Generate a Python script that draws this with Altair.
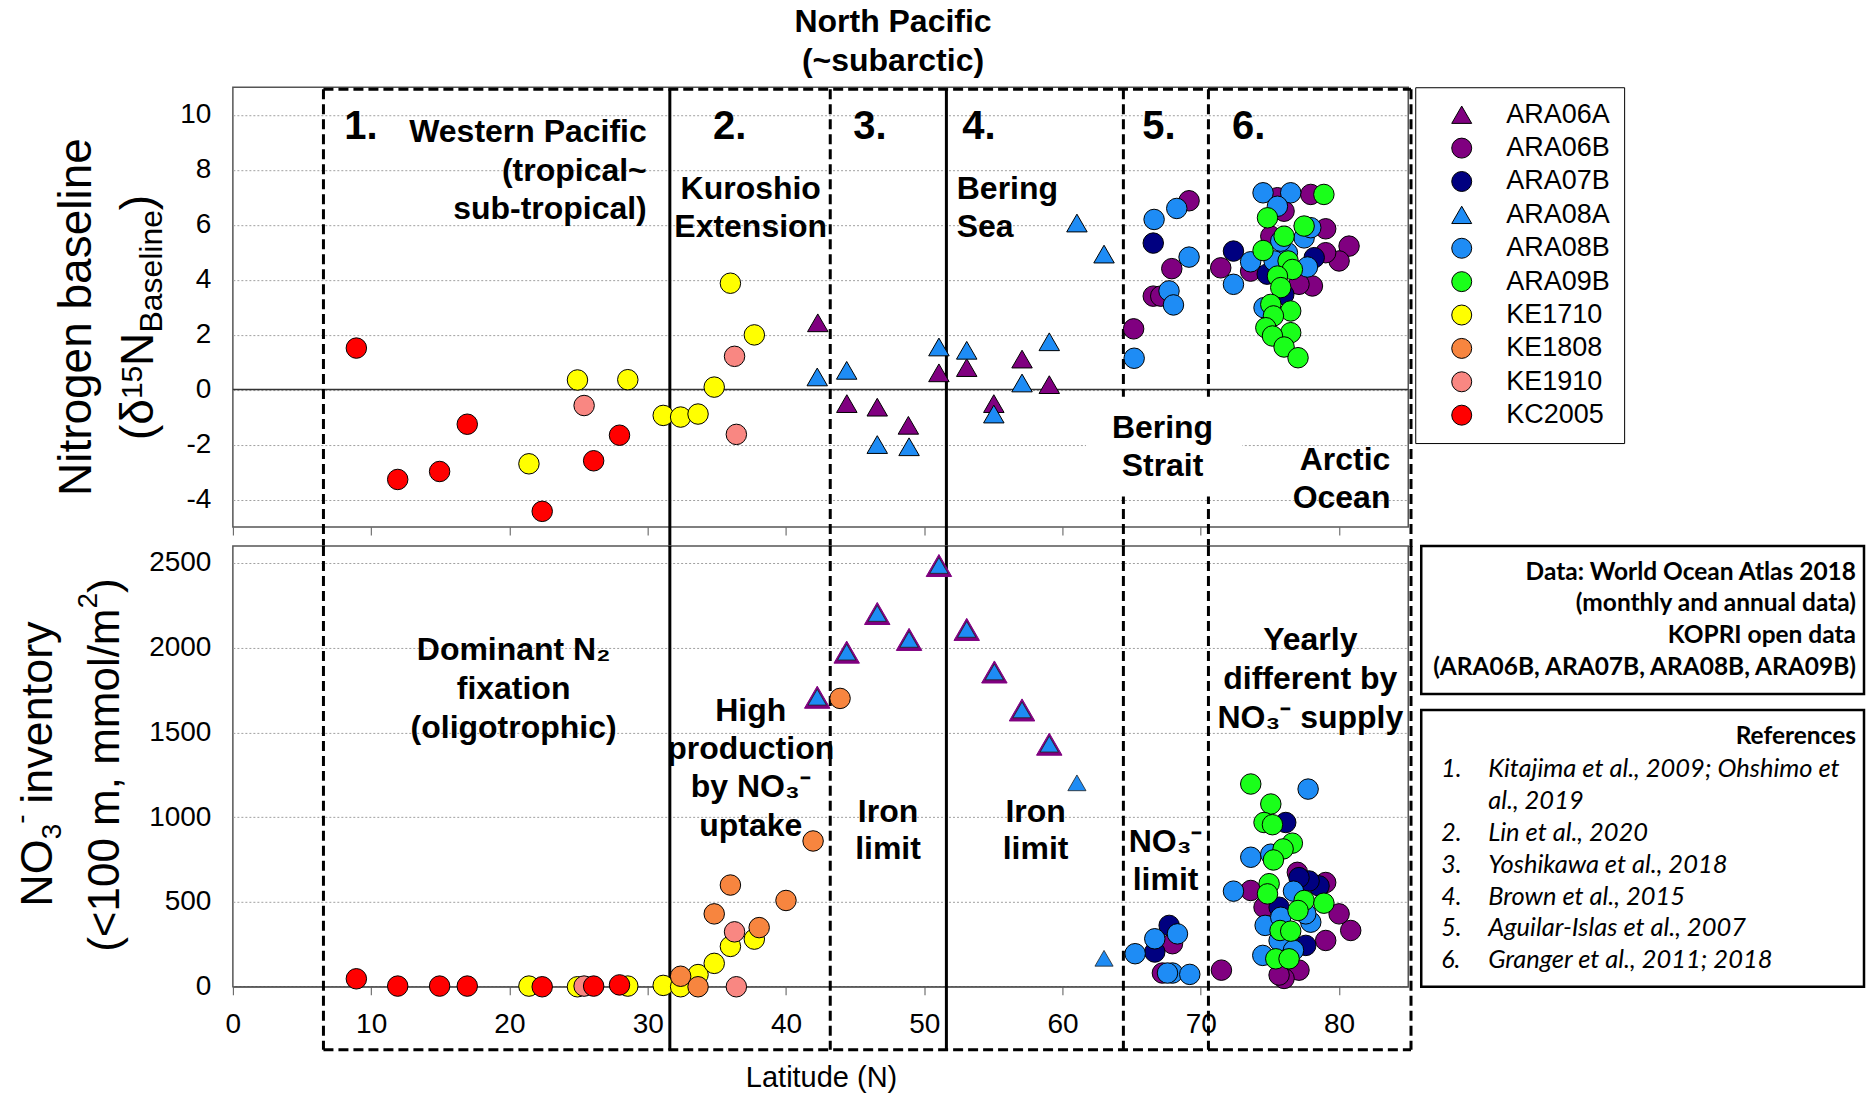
import altair as alt
import pandas as pd

FONT = "Liberation Sans"
REF_FONT = "Lato"

# ---------------- legend / categories ----------------
cruises = ["ARA06A", "ARA06B", "ARA07B", "ARA08A", "ARA08B", "ARA09B",
           "KE1710", "KE1808", "KE1910", "KC2005"]
colors = ["#800080", "#800080", "#000080", "#1E8CF5", "#1E8CF5", "#1AFF1A",
          "#FFFF00", "#F7853F", "#F98782", "#FF0000"]
shapes = ["triangle-up", "circle", "circle", "triangle-up", "circle", "circle",
          "circle", "circle", "circle", "circle"]

# ---------------- top panel: nitrogen baseline (d15N) ----------------
ARA06A_top_lat = [42.3, 44.4, 46.6, 48.85, 51.06, 53.07, 55.03, 57.07, 59.04]
ARA06A_top_d15n = [2.43, -0.51, -0.64, -1.30, 0.61, 0.80, -0.51, 1.11, 0.18]
ARA08A_top_lat = [42.26, 44.39, 46.6, 48.9, 51.06, 53.07, 55.03, 57.07, 59.04, 61.04, 63.0]
ARA08A_top_d15n = [0.46, 0.70, -2.0, -2.08, 1.55, 1.43, -0.89, 0.24, 1.74, 6.06, 4.93]
ARA06B_top_lat = [69.15, 67.9, 66.56, 67.1, 65.14, 71.44, 77.95, 79.03, 80.72, 80.0, 79.03,
                  78.07, 77.1, 76.02, 75.54, 73.6, 75.06]
ARA06B_top_d15n = [6.87, 4.40, 3.40, 3.40, 2.21, 4.43, 7.10, 5.85, 5.22, 4.68, 4.98,
                   3.77, 3.83, 6.49, 6.98, 4.31, 5.58]
ARA07B_top_lat = [66.56, 72.36, 78.2, 74.8, 76.0]
ARA07B_top_d15n = [5.33, 5.04, 4.80, 4.20, 3.46]
ARA08B_top_lat = [66.62, 68.26, 69.15, 67.7, 68.02, 65.18, 74.5, 76.5, 75.54, 72.36, 73.6,
                  77.47, 77.95, 76.26, 77.71, 75.78, 74.57, 75.3]
ARA08B_top_d15n = [6.19, 6.59, 4.82, 3.59, 3.08, 1.14, 7.16, 7.16, 6.67, 3.83, 4.65,
                   5.52, 5.89, 4.98, 4.46, 5.40, 2.98, 4.68]
ARA09B_top_lat = [78.9, 74.82, 77.47, 76.02, 74.5, 76.31, 76.62, 75.54, 75.78, 75.06, 76.5,
                  75.25, 74.7, 76.5, 75.18, 76.02, 77.03]
ARA09B_top_d15n = [7.10, 6.25, 5.95, 5.58, 5.06, 4.68, 4.37, 4.13, 3.71, 3.10, 2.86,
                   2.68, 2.25, 2.07, 1.95, 1.55, 1.16]
KE1710_top_lat = [21.41, 24.92, 28.56, 31.12, 32.38, 33.64, 34.81, 35.98, 37.71]
KE1710_top_d15n = [-2.70, 0.35, 0.36, -0.94, -1.0, -0.89, 0.09, 3.87, 1.99]
KE1910_top_lat = [25.4, 36.28, 36.41]
KE1910_top_d15n = [-0.58, 1.21, -1.63]
KC2005_top_lat = [8.93, 11.92, 14.95, 16.95, 22.37, 26.09, 27.96]
KC2005_top_d15n = [1.51, -3.27, -2.98, -1.26, -4.43, -2.59, -1.66]

# ---------------- bottom panel: NO3- inventory ----------------
ARA06A_bot_lat = [42.26, 44.39, 46.6, 48.9, 51.06, 53.07, 55.07, 57.07, 59.04]
ARA06A_bot_no3 = [1708, 1974, 2202, 2049, 2485, 2108, 1857, 1633, 1431]
ARA08A_bot_lat = [42.26, 44.39, 46.6, 48.9, 51.06, 53.07, 55.07, 57.07, 59.04, 61.04, 63.0]
ARA08A_bot_no3 = [1708, 1974, 2202, 2049, 2485, 2108, 1857, 1633, 1431, 1203, 168]
ARA06B_bot_lat = [67.95, 67.22, 71.49, 73.61, 79.03, 80.0, 80.84, 79.03, 77.1, 76.02, 75.66,
                  74.57, 76.98]
ARA06B_bot_no3 = [254, 81, 98, 568, 615, 430, 332, 273, 98, 49, 69, 469, 675]
ARA07B_bot_lat = [67.71, 66.67, 76.14, 78.55, 77.83, 77.1, 75.66, 77.59]
ARA07B_bot_no3 = [362, 205, 969, 595, 624, 644, 469, 244]
ARA08B_bot_lat = [65.25, 66.67, 68.31, 67.95, 69.2, 67.59, 77.76, 73.61, 72.36, 76.7, 77.95,
                  74.65, 75.78, 75.66, 74.48, 76.7, 75.06, 77.59]
ARA08B_bot_no3 = [195, 283, 312, 81, 73, 81, 1166, 764, 564, 564, 381,
                  362, 410, 272, 185, 215, 782, 430]
ARA09B_bot_lat = [73.61, 75.06, 74.57, 75.18, 76.62, 75.95, 75.25, 74.94, 74.82, 77.47, 77.03,
                  78.9, 75.73, 76.5, 75.42, 76.38]
ARA09B_bot_no3 = [1196, 1078, 969, 956, 847, 813, 748, 608, 548, 509, 450,
                  493, 332, 328, 165, 165]
KE1710_bot_lat = [21.41, 24.92, 28.56, 31.12, 32.38, 33.64, 34.81, 35.98, 37.71]
KE1710_bot_no3 = [4, 0, 4, 8, 0, 72, 138, 238, 281]
KE1808_bot_lat = [32.38, 33.64, 34.81, 35.98, 38.06, 40.0, 41.96, 43.91]
KE1808_bot_no3 = [62, 0, 430, 600, 349, 509, 860, 1701]
KE1910_bot_lat = [25.4, 36.28, 36.41]
KE1910_bot_no3 = [4, 324, 0]
KC2005_bot_lat = [8.93, 11.92, 14.95, 16.95, 22.37, 26.09, 27.96]
KC2005_bot_no3 = [47, 4, 4, 4, 0, 4, 11]

# region boundaries (latitude)
dashed_bounds = [6.55, 43.2, 64.4, 70.55, 85.2]
solid_bounds = [31.6, 51.6]
box_span = [6.55, 85.2]

ref_numbers_a = ["1."]
ref_numbers_b = ["2.", "3.", "4.", "5.", "6."]
ref_lines = ["Kitajima et al., 2009; Ohshimo et", "al., 2019", "Lin et al., 2020",
             "Yoshikawa et al., 2018", "Brown et al., 2015", "Aguilar-Islas et al., 2007",
             "Granger et al., 2011; 2018"]
data_lines = ["Data: World Ocean Atlas 2018", "(monthly and annual data)", "KOPRI open data",
              "(ARA06B, ARA07B, ARA08B, ARA09B)"]


def frame(series):
    rows = []
    for name, lats, vals in series:
        for la, v in zip(lats, vals):
            rows.append({"cruise": name, "lat": la, "val": v})
    return pd.DataFrame(rows)


top_df = frame([
    ("ARA06A", ARA06A_top_lat, ARA06A_top_d15n),
    ("ARA08A", ARA08A_top_lat, ARA08A_top_d15n),
    ("ARA06B", ARA06B_top_lat, ARA06B_top_d15n),
    ("ARA07B", ARA07B_top_lat, ARA07B_top_d15n),
    ("ARA08B", ARA08B_top_lat, ARA08B_top_d15n),
    ("ARA09B", ARA09B_top_lat, ARA09B_top_d15n),
    ("KE1710", KE1710_top_lat, KE1710_top_d15n),
    ("KE1910", KE1910_top_lat, KE1910_top_d15n),
    ("KC2005", KC2005_top_lat, KC2005_top_d15n),
])
bot_big_df = frame([("ARA06A", ARA06A_bot_lat, ARA06A_bot_no3)])
bot_tri_df = frame([("ARA08A", ARA08A_bot_lat, ARA08A_bot_no3)])
bot_circ_df = frame([
    ("ARA06B", ARA06B_bot_lat, ARA06B_bot_no3),
    ("ARA07B", ARA07B_bot_lat, ARA07B_bot_no3),
    ("ARA08B", ARA08B_bot_lat, ARA08B_bot_no3),
    ("ARA09B", ARA09B_bot_lat, ARA09B_bot_no3),
    ("KE1710", KE1710_bot_lat, KE1710_bot_no3),
    ("KE1808", KE1808_bot_lat, KE1808_bot_no3),
    ("KE1910", KE1910_bot_lat, KE1910_bot_no3),
    ("KC2005", KC2005_bot_lat, KC2005_bot_no3),
])

W = 1176
H_TOP = 440
H_BOT = 441
XSCALE = alt.Scale(domain=[0, 85], nice=False, zero=False)
YS_TOP = alt.Scale(domain=[-5, 11], nice=False, zero=False)
YS_BOT = alt.Scale(domain=[0, 2600], nice=False, zero=False)
PLAIN = "'' + datum.value"


def x_top(field="lat:Q"):
    return alt.X(field, scale=XSCALE,
                 axis=alt.Axis(title=None, labels=False, ticks=True, tickSize=8, grid=False,
                               domain=False, values=list(range(0, 90, 10)), tickColor="#555"))


def y_top(field="val:Q"):
    return alt.Y(field, scale=YS_TOP,
                 axis=alt.Axis(title=None, values=[-4, -2, 0, 2, 4, 6, 8, 10], grid=True,
                               gridDash=[2, 2], gridColor="#a0a0a0", ticks=False,
                               labelPadding=22, domain=False, labelExpr=PLAIN, labelFlush=False))


def x_bot(field="lat:Q"):
    return alt.X(field, scale=XSCALE,
                 axis=alt.Axis(title=None, labels=True, ticks=True, tickSize=8, grid=False,
                               domain=True, domainColor="#555", tickColor="#555",
                               labelPadding=16, values=list(range(0, 90, 10)), labelExpr=PLAIN,
                               labelFlush=False))


def y_bot(field="val:Q"):
    return alt.Y(field, scale=YS_BOT,
                 axis=alt.Axis(title=None, values=[0, 500, 1000, 1500, 2000, 2500], grid=True,
                               gridDash=[2, 2], gridColor="#a0a0a0", ticks=False,
                               labelPadding=22, domain=False, labelExpr=PLAIN, labelFlush=False))


legend = alt.Legend(title=None, orient="none", legendX=1183, legendY=0, direction="vertical",
                    strokeColor="black", fillColor="white", padding=14, symbolOffset=19,
                    labelOffset=31, labelFontSize=27, labelFont=FONT, labelColor="black",
                    rowPadding=5.4, symbolSize=400, symbolStrokeColor="black",
                    symbolStrokeWidth=1, labelLimit=0)


def color_enc(leg):
    return alt.Color("cruise:N", scale=alt.Scale(domain=cruises, range=colors), legend=leg)


def shape_enc(leg):
    return alt.Shape("cruise:N", scale=alt.Scale(domain=cruises, range=shapes), legend=leg)


one = pd.DataFrame({"lat": [0.0], "val": [0.0]})


def text_layer(text, xf, yf, lat=None, val=None, px=None, py=None, size=32, weight="bold",
               align="center", baseline="middle", angle=0, font=FONT, style="normal", lh=None):
    # for multi-line text, (lat/val or px/py) positions the FIRST line
    df = pd.DataFrame({"lat": [lat if lat is not None else 0.0],
                       "val": [val if val is not None else 0.0]})
    props = dict(font=font, fontSize=size, fontWeight=weight, align=align, baseline=baseline,
                 color="black", lineBreak="\n", fontStyle=style)
    if angle:
        props["angle"] = angle
    if lh:
        props["lineHeight"] = lh
    enc = dict(text=alt.value(text))
    enc["x"] = xf() if lat is not None else alt.value(px)
    enc["y"] = yf() if val is not None else alt.value(py)
    return alt.Chart(df).mark_text(**props).encode(**enc)


def region_rules(xf, y0, y1, ybox):
    d1 = pd.DataFrame({"lat": dashed_bounds})
    d2 = pd.DataFrame({"lat": solid_bounds})
    d3 = pd.DataFrame({"lat": [box_span[0]], "lat2": [box_span[1]]})
    dashed = alt.Chart(d1).mark_rule(color="black", strokeWidth=3, strokeDash=[10, 5]).encode(
        x=xf(), y=alt.value(y0), y2=alt.value(y1))
    solid = alt.Chart(d2).mark_rule(color="black", strokeWidth=3).encode(
        x=xf(), y=alt.value(y0), y2=alt.value(y1))
    hline = alt.Chart(d3).mark_rule(color="black", strokeWidth=3, strokeDash=[10, 5]).encode(
        x=xf(), x2="lat2:Q", y=alt.value(ybox))
    return [dashed, solid, hline]


# ---------------- top panel ----------------
zero_rule = alt.Chart(pd.DataFrame({"val": [0.0]})).mark_rule(color="#333", strokeWidth=1.5).encode(
    y=y_top())
white_rect = alt.Chart(pd.DataFrame({"lat": [61.7], "lat2": [73.0], "val": [-0.26], "val2": [-3.89]})).mark_rect(
    color="white").encode(x=x_top(), x2="lat2:Q", y=y_top(), y2="val2:Q")
points_top = alt.Chart(top_df).mark_point(filled=True, size=420, stroke="black", strokeWidth=1,
                                          opacity=1).encode(
    x=x_top(), y=y_top(), color=color_enc(legend), shape=shape_enc(legend))
anchor = alt.Chart(one).mark_rect(opacity=0).encode(
    x=alt.value(-232), x2=alt.value(-231), y=alt.value(-86), y2=alt.value(-85))

T = lambda *a, **k: text_layer(*a, x_top, y_top, **k)
top_texts = [
    T("North Pacific\n(~subarctic)", lat=47.74, py=-65, lh=39),
    T("1.", lat=8.06, val=9.56, size=40, align="left"),
    T("Western Pacific\n(tropical~\nsub-tropical)", lat=29.93, val=9.37, align="right", lh=38.5),
    T("2.", lat=34.72, val=9.56, size=40, align="left"),
    T("Kuroshio\nExtension", lat=37.45, val=7.30, lh=38),
    T("3.", lat=44.86, val=9.56, size=40, align="left"),
    T("4.", lat=52.75, val=9.56, size=40, align="left"),
    T("Bering\nSea", lat=52.35, val=7.30, align="left", lh=38),
    T("5.", lat=65.76, val=9.56, size=40, align="left"),
    T("6.", lat=72.26, val=9.56, size=40, align="left"),
    T("Bering\nStrait", lat=67.23, val=-1.39, lh=38),
    T("Arctic\nOcean", lat=83.71, val=-2.58, align="right", lh=38),
    # y title
    T("Nitrogen baseline", px=-142, py=230, size=46, weight="normal", angle=270,
      baseline="alphabetic"),
    T("(δ", px=-80, py=353, size=46, weight="normal", angle=270, align="left", baseline="alphabetic"),
    T("15", px=-91, py=312, size=30, weight="normal", angle=270, align="left", baseline="alphabetic"),
    T("N", px=-80, py=279, size=46, weight="normal", angle=270, align="left", baseline="alphabetic"),
    T("Baseline", px=-71, py=245.5, size=32, weight="normal", angle=270, align="left",
      baseline="alphabetic"),
    T(")", px=-80, py=123, size=46, weight="normal", angle=270, align="left", baseline="alphabetic"),
]

top = alt.layer(
    zero_rule, *region_rules(x_top, 2, 460, 2), white_rect, points_top, *top_texts, anchor
).properties(width=W, height=H_TOP)

# ---------------- bottom panel ----------------
points_big = alt.Chart(bot_big_df).mark_point(filled=True, size=650, stroke="#800080", strokeWidth=1,
                                              opacity=1).encode(
    x=x_bot(), y=y_bot(), color=color_enc(None), shape=shape_enc(None))
points_tri = alt.Chart(bot_tri_df).mark_point(filled=True, size=330, stroke="#222", strokeWidth=0.8,
                                              opacity=1).encode(
    x=x_bot(), y=y_bot(), color=color_enc(None), shape=shape_enc(None))
points_circ = alt.Chart(bot_circ_df).mark_point(filled=True, size=420, stroke="black", strokeWidth=1,
                                                opacity=1).encode(
    x=x_bot(), y=y_bot(), color=color_enc(None), shape=shape_enc(None))

box_df = pd.DataFrame({"lat": [0.0]})
data_box = alt.Chart(box_df).mark_rect(fill="white", stroke="black", strokeWidth=2.5).encode(
    x=alt.value(1189), x2=alt.value(1632), y=alt.value(0), y2=alt.value(148))
ref_box = alt.Chart(box_df).mark_rect(fill="white", stroke="black", strokeWidth=2.5).encode(
    x=alt.value(1189), x2=alt.value(1632), y=alt.value(164), y2=alt.value(441))

LH_REF = 31.8
B = lambda *a, **k: text_layer(*a, x_bot, y_bot, **k)
bot_texts = [
    B("Dominant N₂\nfixation\n(oligotrophic)", lat=20.3, val=1987, lh=39),
    B("High\nproduction\nby NO₃⁻\nuptake", lat=37.45, val=1629, lh=38.4),
    B("Iron\nlimit", lat=47.38, val=1030, lh=37),
    B("Iron\nlimit", lat=58.05, val=1030, lh=37),
    B("NO₃⁻\nlimit", lat=67.45, val=851, lh=38),
    B("Yearly\ndifferent by\nNO₃⁻ supply", lat=77.92, val=2048, lh=39),
    B("Latitude (N)", lat=42.57, py=532, size=29, weight="normal"),
    B("\n".join(data_lines), px=1624, py=26.6, size=24.5, align="right", font=REF_FONT, lh=31.9),
    B("References", px=1624, py=191, size=24.5, align="right", font=REF_FONT),
    B("\n".join(ref_numbers_a), px=1209, py=223.5, size=25, align="left", font=REF_FONT,
      weight="normal", style="italic", lh=LH_REF),
    B("\n".join(ref_numbers_b), px=1209, py=223.5 + 2 * LH_REF, size=25, align="left",
      font=REF_FONT, weight="normal", style="italic", lh=LH_REF),
    B("\n".join(ref_lines), px=1256, py=223.5, size=25.5, align="left", font=REF_FONT,
      weight="normal", style="italic", lh=LH_REF),
    # y title
    B("NO", px=-181, py=361, size=45, weight="normal", angle=270, align="left", baseline="alphabetic"),
    B("3", px=-172, py=293.5, size=28, weight="normal", angle=270, align="left", baseline="alphabetic"),
    B("-", px=-203, py=278, size=28, weight="normal", angle=270, align="left", baseline="alphabetic"),
    B("inventory", px=-181, py=258, size=45, weight="normal", angle=270, align="left",
      baseline="alphabetic"),
    B("(<100 m, mmol/m", px=-114, py=406, size=44, weight="normal", angle=270, align="left",
      baseline="alphabetic"),
    B("2", px=-136, py=62.5, size=28, weight="normal", angle=270, align="left", baseline="alphabetic"),
    B(")", px=-114, py=47, size=44, weight="normal", angle=270, align="left", baseline="alphabetic"),
]

bottom = alt.layer(
    *region_rules(x_bot, 0, 504, 504), points_big, points_tri, points_circ, data_box, ref_box,
    *bot_texts
).properties(width=W, height=H_BOT)

chart = alt.vconcat(top, bottom, spacing=19, bounds="flush").resolve_scale(
    color="independent", shape="independent"
).properties(
    padding={"left": 0, "top": 0, "right": 0, "bottom": 0}, background="white"
).configure_view(
    stroke="#555", strokeWidth=1.5
).configure_axis(
    labelFont=FONT, labelFontSize=28, labelColor="black"
)

chart.save("out.html", embed_options={"renderer": "svg", "actions": False})
